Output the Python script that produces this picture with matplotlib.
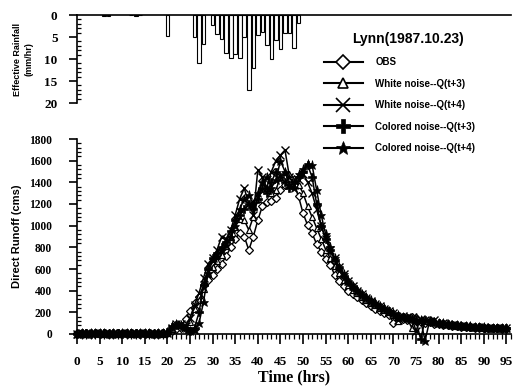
import matplotlib
matplotlib.use("Agg")
import matplotlib.pyplot as plt
from matplotlib.ticker import MultipleLocator
import numpy as np

# ---------------- data ----------------
rain_hours = [6, 7, 12, 13, 14, 20, 26, 27, 28, 30, 31, 32, 33, 34, 35, 36, 37, 38, 39,
              40, 41, 42, 43, 44, 45, 46, 47, 48, 49]
rain_vals = [0.15, 0.15, 0.1, 0.15, 0.1, 4.8, 5.0, 10.9, 6.6, 2.3, 4.4, 5.5, 8.6, 9.7, 8.8, 9.7,
             5.0, 17.0, 12.0, 4.5, 3.8, 6.8, 10.0, 5.7, 7.8, 4.2, 4.2, 7.4, 1.9]

hours = list(range(96))

obs = [5, 3, 5, 8, 5, 4, 6, 5, 3, 5, 6, 4, 5, 7, 5, 4, 6, 5, 4, 6,
       10, 25, 45, 60, 140, 215, 290, 345, 450, 500,
       545, 600, 650, 720, 800, 880, 930, 900, 775, 900,
       1050, 1180, 1220, 1230, 1255, 1330, 1380, 1400, 1380, 1270,
       1115, 1005, 930, 830, 760, 690, 640, 545, 490, 440,
       400, 370, 340, 310, 285, 260, 235, 215, 195, 175,
       105, 150, 140, 130, 160, 120, 110, 105, 115, 95,
       90, 85, 80, 75, 72, 68, 65, 62, 60, 58,
       56, 55, 54, 52, 50, 48]

wn_t3 = [0, 8, 4, 6, 10, 4, 3, 8, 6, 2, 5, 9, 3, 5, 8, 6, 3, 7, 5, 4,
         8, 45, 80, 85, 70, 110, 230, 310, 420, 560,
         620, 670, 730, 810, 900, 990, 1060, 1050, 960, 1080,
         1250, 1380, 1350, 1300, 1330, 1450, 1500, 1480, 1440, 1380,
         1300, 1180, 1080, 980, 880, 780, 700, 630, 560, 500,
         450, 410, 375, 345, 315, 290, 265, 240, 220, 200,
         180, 120, 165, 150, 60, 170, 130, 120, 115, 120,
         100, 95, 88, 82, 78, 74, 70, 67, 64, 62,
         60, 58, 57, 55, 53, 51]

wn_t4 = [0, 10, 5, 3, 12, 6, 2, 9, 5, 4, 7, 10, 2, 6, 9, 5, 4, 8, 6, 3,
         10, 55, 95, 90, 75, 150, 270, 380, 520, 650,
         700, 780, 900, 880, 960, 1100, 1250, 1345, 1200, 1100,
         1514, 1450, 1350, 1500, 1600, 1652, 1698, 1450, 1380, 1420,
         1480, 1400, 1300, 1150, 1000, 880, 780, 700, 620, 550,
         490, 440, 400, 365, 335, 305, 280, 255, 230, 210,
         190, 130, 170, 160, 150, 30, 140, 125, 120, 125,
         105, 98, 90, 85, 80, 76, 72, 68, 66, 63,
         61, 59, 58, 56, 54, 52]

cn_t3 = [2, 6, 9, 4, 5, 10, 6, 3, 7, 8, 4, 6, 9, 5, 3, 7, 8, 4, 6, 5,
         15, 65, 85, 75, 45, 30, 60, 200, 450, 600,
         700, 750, 800, 850, 950, 1050, 1100, 1150, 1200, 1150,
         1250, 1350, 1300, 1400, 1500, 1450, 1400, 1350, 1400, 1450,
         1500, 1560, 1450, 1200, 1000, 880, 780, 680, 610, 540,
         480, 435, 395, 360, 330, 300, 275, 250, 228, 208,
         188, 170, 155, 145, 135, 125, -50, 130, 118, 110,
         102, 96, 90, 84, 79, 75, 71, 68, 65, 62,
         60, 58, 56, 55, 53, 51]

cn_t4 = [4, 7, 3, 9, 6, 5, 8, 4, 6, 3, 7, 5, 8, 4, 6, 9, 5, 3, 7, 6,
         20, 75, 95, 85, 55, 25, 40, 100, 300, 560,
         680, 720, 780, 820, 900, 1000, 1150, 1250, 1280, 1200,
         1300, 1400, 1450, 1350, 1420, 1600, 1500, 1380, 1350, 1480,
         1520, 1570, 1560, 1330, 1100, 920, 800, 700, 620, 550,
         490, 445, 405, 370, 340, 310, 285, 260, 236, 215,
         195, 176, 160, 150, 140, 132, 125, -60, 122, 112,
         104, 98, 92, 86, 81, 77, 73, 70, 67, 64,
         62, 60, 58, 56, 54, 52]

series_labels = ["OBS", "White noise--Q(t+3)", "White noise--Q(t+4)",
                 "Colored noise--Q(t+3)", "Colored noise--Q(t+4)"]
legend_title = "Lynn(1987.10.23)"
x_ticks = list(range(0, 96, 5))
q_ticks = list(range(0, 1801, 200))
r_ticks = [0, 5, 10, 15, 20]

# ---------------- figure ----------------
W, H = 515, 392
fig = plt.figure(figsize=(W / 100, H / 100), dpi=100)

serif = "Liberation Serif"
sans = "Liberation Sans"

def fx(px):
    return px / W

def fy(py):
    return 1 - py / H

x0, x1 = 77, 511
axr = fig.add_axes([fx(x0), fy(103), fx(x1) - fx(x0), fy(15) - fy(103)])
axq = fig.add_axes([fx(x0), fy(334), fx(x1) - fx(x0), fy(139) - fy(334)])

# rainfall
axr.bar(rain_hours, rain_vals, width=0.8, color="white", edgecolor="black", linewidth=0.8)
axr.set_xlim(0, 96)
axr.set_ylim(20, 0)
axr.spines["bottom"].set_visible(False)
axr.spines["right"].set_visible(False)
axr.spines["top"].set_linewidth(1.2)
axr.spines["left"].set_linewidth(1.2)
axr.set_xticks([])
axr.set_yticks(r_ticks)
axr.yaxis.set_minor_locator(MultipleLocator(1))
axr.tick_params(axis="y", which="major", direction="out", length=6, width=1.2, pad=8)
axr.tick_params(axis="y", which="minor", direction="in", length=3, width=0.9)
for t in axr.get_yticklabels():
    t.set_fontfamily(serif)
    t.set_fontweight("bold")
    t.set_fontsize(9.5)
axr.set_ylabel("Effective Rainfall\n(mm/hr)", fontfamily=sans, fontweight="bold",
               fontsize=6.5, labelpad=8, linespacing=1.3)
axr.patch.set_alpha(0)

# runoff
styles = [
    dict(marker="D", mfc="white", mec="black", ms=3.8, mew=0.9),
    dict(marker="^", mfc="white", mec="black", ms=4.2, mew=0.9),
    dict(marker="x", mfc="black", mec="black", ms=5.2, mew=1.0),
    dict(marker="P", mfc="black", mec="black", ms=5.2, mew=0.5),
    dict(marker="*", mfc="black", mec="black", ms=6.5, mew=0.5),
]
leg_sizes = [7, 7.5, 9.5, 9.5, 10.5]
series = [obs, wn_t3, wn_t4, cn_t3, cn_t4]
handles = []
for s, st, lab, lsz in zip(series, styles, series_labels, leg_sizes):
    axq.plot(hours, s, color="black", lw=1.1, clip_on=False, **st)
    h, = plt.plot([], [], color="black", lw=1.5, marker=st["marker"], mfc=st["mfc"],
                  mec="black", ms=lsz, mew=1.2 if st["marker"] in ("D", "^", "x") else 0.5,
                  label=lab)
    handles.append(h)

axq.set_xlim(0, 96)
axq.set_ylim(0, 1800)
axq.spines["top"].set_visible(False)
axq.spines["right"].set_visible(False)
axq.spines["left"].set_linewidth(1.2)
axq.spines["bottom"].set_linewidth(1.2)
axq.set_xticks(x_ticks)
axq.set_yticks(q_ticks)
axq.xaxis.set_minor_locator(MultipleLocator(1))
axq.yaxis.set_minor_locator(MultipleLocator(40))
axq.tick_params(axis="x", which="major", direction="out", length=7, width=1.2, pad=9)
axq.tick_params(axis="x", which="minor", direction="out", length=3.5, width=0.9)
axq.tick_params(axis="y", which="major", direction="out", length=6, width=1.2, pad=12)
axq.tick_params(axis="y", which="minor", direction="in", length=3, width=0.9)
for t in axq.get_xticklabels():
    t.set_fontfamily(serif)
    t.set_fontweight("bold")
    t.set_fontsize(9.5)
for t in axq.get_yticklabels():
    t.set_fontfamily(serif)
    t.set_fontweight("bold")
    t.set_fontsize(8.3)
axq.set_xlabel("Time (hrs)", fontfamily=serif, fontweight="bold", fontsize=11.5, labelpad=1)
axq.set_ylabel("Direct Runoff (cms)", fontfamily=sans, fontweight="bold", fontsize=8,
               labelpad=5)
axq.patch.set_alpha(0)

leg = fig.legend(handles=handles, loc="upper left", bbox_to_anchor=(fx(315), fy(23)),
                 frameon=False, title=legend_title, handlelength=4.0, handletextpad=1.3,
                 labelspacing=1.18,
                 prop=dict(family=sans, weight="bold", size=7),
                 title_fontproperties=dict(family=sans, weight="bold", size=10))
leg._legend_box.align = "left"
leg.get_title().set_position((28, 0))

fig.savefig("out.png", dpi=100)
